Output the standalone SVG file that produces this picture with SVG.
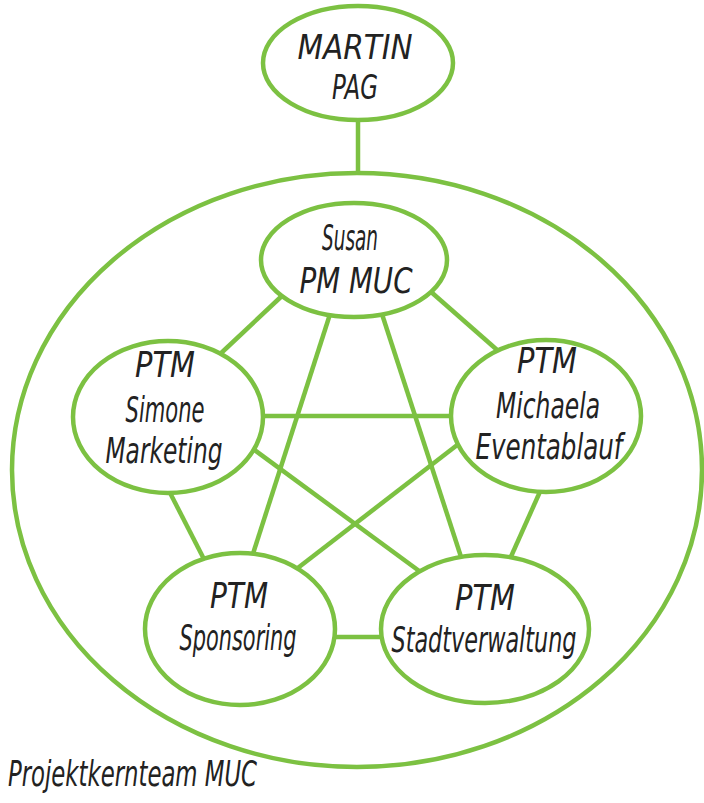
<svg xmlns="http://www.w3.org/2000/svg" width="704" height="803" viewBox="0 0 704 803">
<style>
.bg{fill:#ffffff}
.ring{fill:none;stroke:#7cc142;stroke-width:4.5}
.node{fill:#ffffff;stroke:#7cc142;stroke-width:4.5}
.edge{stroke:#7cc142;stroke-width:4.5;stroke-linecap:butt;fill:none}
.t{font-family:"Liberation Sans Narrow","DejaVu Sans Condensed","Liberation Sans",sans-serif;font-size:36px;font-style:italic;fill:#222222;text-anchor:middle}
.top{font-size:34px}
.lbl{font-family:"Liberation Sans Narrow","DejaVu Sans Condensed","Liberation Sans",sans-serif;font-size:36px;font-style:italic;fill:#222222}
</style>
<rect class="bg" x="0" y="0" width="704" height="803"/>
<g id="team">
<ellipse class="ring" cx="357" cy="470" rx="345" ry="297"/>
<text class="lbl" x="8" y="786" textLength="249" lengthAdjust="spacingAndGlyphs">Projektkernteam MUC</text>
</g>
<g id="connectors">
<line class="edge" x1="358" y1="115" x2="358" y2="175"/>
<line class="edge" x1="284" y1="294" x2="218" y2="356"/>
<line class="edge" x1="430" y1="291" x2="504" y2="356"/>
<line class="edge" x1="332" y1="308" x2="250" y2="563"/>
<line class="edge" x1="380" y1="308" x2="463" y2="563"/>
<line class="edge" x1="255" y1="416" x2="460" y2="416"/>
<line class="edge" x1="166" y1="485" x2="207" y2="565"/>
<line class="edge" x1="245" y1="443" x2="426" y2="576"/>
<line class="edge" x1="465" y1="439" x2="290" y2="574"/>
<line class="edge" x1="543" y1="485" x2="509" y2="561"/>
<line class="edge" x1="328" y1="637" x2="388" y2="637"/>
</g>
<g id="martin">
<ellipse class="node" cx="358" cy="63" rx="95" ry="57"/>
<text class="t top" x="355" y="59" textLength="115" lengthAdjust="spacingAndGlyphs">MARTIN</text>
<text class="t top" x="355" y="99" textLength="46" lengthAdjust="spacingAndGlyphs">PAG</text>
</g>
<g id="susan">
<ellipse class="node" cx="354" cy="260" rx="93" ry="57"/>
<text class="t" x="350" y="250" textLength="56" lengthAdjust="spacingAndGlyphs">Susan</text>
<text class="t" x="356" y="293" textLength="113" lengthAdjust="spacingAndGlyphs">PM MUC</text>
</g>
<g id="simone">
<ellipse class="node" cx="168" cy="417" rx="95" ry="76"/>
<text class="t" x="165" y="377" textLength="60" lengthAdjust="spacingAndGlyphs">PTM</text>
<text class="t" x="165" y="422" textLength="79" lengthAdjust="spacingAndGlyphs">Simone</text>
<text class="t" x="164" y="463" textLength="117" lengthAdjust="spacingAndGlyphs">Marketing</text>
</g>
<g id="michaela">
<ellipse class="node" cx="546" cy="416" rx="95" ry="76"/>
<text class="t" x="547" y="373" textLength="60" lengthAdjust="spacingAndGlyphs">PTM</text>
<text class="t" x="548" y="418" textLength="104" lengthAdjust="spacingAndGlyphs">Michaela</text>
<text class="t" x="549" y="459" textLength="147" lengthAdjust="spacingAndGlyphs">Eventablauf</text>
</g>
<g id="sponsoring">
<ellipse class="node" cx="240" cy="629" rx="95" ry="76"/>
<text class="t" x="239" y="608" textLength="58" lengthAdjust="spacingAndGlyphs">PTM</text>
<text class="t" x="238" y="650" textLength="117" lengthAdjust="spacingAndGlyphs">Sponsoring</text>
</g>
<g id="stadtverwaltung">
<ellipse class="node" cx="485" cy="629" rx="104" ry="74"/>
<text class="t" x="485" y="610" textLength="60" lengthAdjust="spacingAndGlyphs">PTM</text>
<text class="t" x="484" y="652" textLength="185" lengthAdjust="spacingAndGlyphs">Stadtverwaltung</text>
</g>
</svg>
